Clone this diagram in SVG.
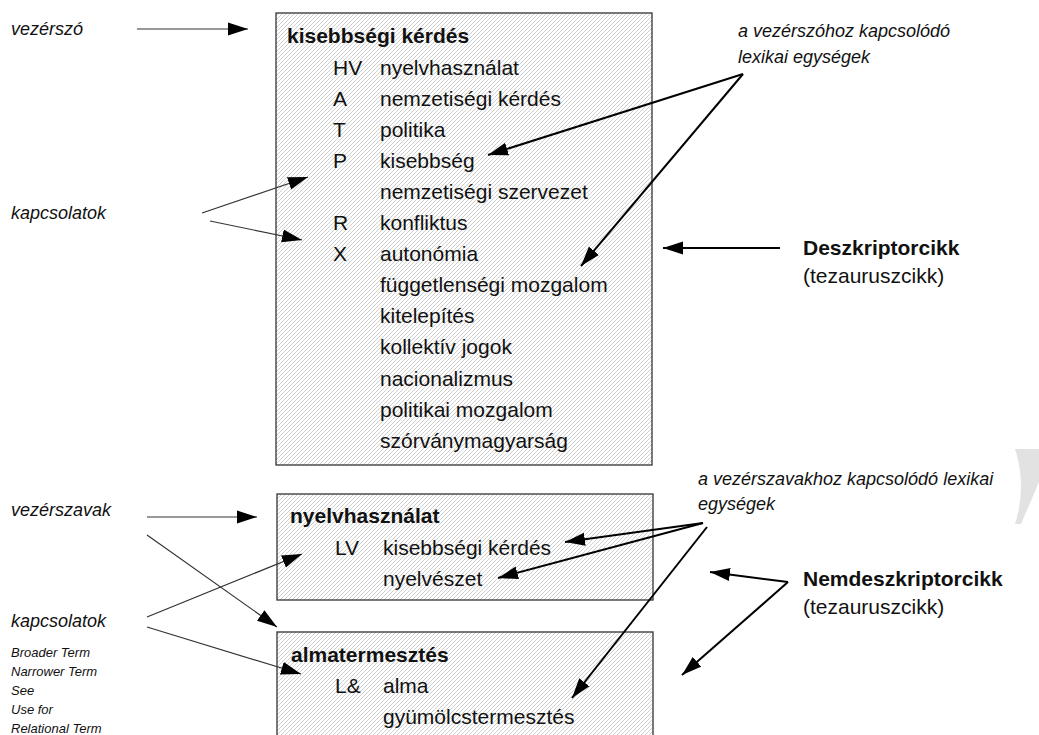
<svg xmlns="http://www.w3.org/2000/svg" width="1039" height="735" viewBox="0 0 1039 735">
  <style>
    .t { font-family: "Liberation Sans", Arial, sans-serif; fill: #111; }
    .head { font-size: 21px; font-weight: bold; }
    .entry { font-size: 21px; }
    .lab { font-size: 18px; font-style: italic; }
    .small { font-size: 13px; font-style: italic; }
    .box { fill: url(#hatch); stroke: #333; stroke-width: 1.3; }
    .thin { stroke: #333; stroke-width: 1.2; fill: none; }
    .thick { stroke: #000; stroke-width: 2; fill: none; }
  </style>
  <defs>
    <pattern id="hatch" patternUnits="userSpaceOnUse" width="4" height="4">
      <rect width="4" height="4" fill="#fff"/>
      <path d="M-1,1 L1,-1 M0,4 L4,0 M3,5 L5,3" stroke="#cacaca" stroke-width="0.9"/>
    </pattern>
    <marker id="arr" markerUnits="userSpaceOnUse" markerWidth="21" markerHeight="14" refX="20" refY="7" orient="auto">
      <path d="M0,0.5 L20,7 L0,13.5 Z" fill="#000"/>
    </marker>
  </defs>

  <rect width="1039" height="735" fill="#fff"/>

  <!-- faint page-edge ornament -->
  <path d="M1015,449 L1039,449 L1039,482 L1021,524 L1015,524 Q1027,487 1015,449 Z" fill="#e2e2e2"/>

  <!-- descriptor entry -->
  <g id="descriptor">
    <rect class="box" x="276" y="13" width="376" height="452"/>
    <text class="t head" x="287" y="43">kisebbségi kérdés</text>
    <g class="t entry">
      <text x="333" y="75">HV</text><text x="380" y="75">nyelvhasználat</text>
      <text x="333" y="106">A</text><text x="380" y="106">nemzetiségi kérdés</text>
      <text x="333" y="137">T</text><text x="380" y="137">politika</text>
      <text x="333" y="168">P</text><text x="380" y="168">kisebbség</text>
      <text x="380" y="199">nemzetiségi szervezet</text>
      <text x="333" y="230">R</text><text x="380" y="230">konfliktus</text>
      <text x="333" y="261">X</text><text x="380" y="261">autonómia</text>
      <text x="380" y="292">függetlenségi mozgalom</text>
      <text x="380" y="323">kitelepítés</text>
      <text x="380" y="354">kollektív jogok</text>
      <text x="380" y="386">nacionalizmus</text>
      <text x="380" y="417">politikai mozgalom</text>
      <text x="380" y="448">szórványmagyarság</text>
    </g>
  </g>

  <!-- non-descriptor entries -->
  <g id="nondescriptor-1">
    <rect class="box" x="277" y="494" width="376" height="106"/>
    <text class="t head" x="290" y="523">nyelvhasználat</text>
    <text class="t entry" x="335" y="555">LV</text>
    <text class="t entry" x="383" y="555">kisebbségi kérdés</text>
    <text class="t entry" x="383" y="586">nyelvészet</text>
  </g>
  <g id="nondescriptor-2">
    <rect class="box" x="277" y="632" width="376" height="120"/>
    <text class="t head" x="291" y="662">almatermesztés</text>
    <text class="t entry" x="335" y="693">L&amp;</text>
    <text class="t entry" x="383" y="693">alma</text>
    <text class="t entry" x="383" y="724">gyümölcstermesztés</text>
  </g>

  <!-- annotations -->
  <g id="labels-left">
    <text class="t lab" x="11" y="35">vezérszó</text>
    <text class="t lab" x="11" y="219">kapcsolatok</text>
    <text class="t lab" x="11" y="516">vezérszavak</text>
    <text class="t lab" x="11" y="627">kapcsolatok</text>
    <g class="t small">
      <text x="11" y="657">Broader Term</text>
      <text x="11" y="676">Narrower Term</text>
      <text x="11" y="695">See</text>
      <text x="11" y="714">Use for</text>
      <text x="11" y="733">Relational Term</text>
    </g>
  </g>
  <g id="labels-right">
    <text class="t lab" x="738" y="37">a vezérszóhoz kapcsolódó</text>
    <text class="t lab" x="738" y="63">lexikai egységek</text>
    <text class="t head" x="803" y="255">Deszkriptorcikk</text>
    <text class="t entry" x="803" y="283">(tezauruszcikk)</text>
    <text class="t lab" x="698" y="485">a vezérszavakhoz kapcsolódó lexikai</text>
    <text class="t lab" x="698" y="510">egységek</text>
    <text class="t head" x="803" y="586">Nemdeszkriptorcikk</text>
    <text class="t entry" x="803" y="614">(tezauruszcikk)</text>
  </g>

  <!-- connectors -->
  <g id="connectors" marker-end="url(#arr)">
    <line class="thin" x1="137" y1="29" x2="248" y2="29"/>
    <line class="thin" x1="202" y1="213" x2="308" y2="177"/>
    <line class="thin" x1="210" y1="221" x2="302" y2="240"/>
    <line class="thick" x1="743" y1="74" x2="488" y2="155"/>
    <line class="thick" x1="743" y1="74" x2="581" y2="266"/>
    <line class="thick" x1="780" y1="248" x2="663" y2="248"/>
    <line class="thin" x1="147" y1="517" x2="257" y2="517"/>
    <line class="thin" x1="147" y1="535" x2="277" y2="627"/>
    <line class="thin" x1="147" y1="617" x2="302" y2="554"/>
    <line class="thin" x1="147" y1="627" x2="301" y2="674"/>
    <line class="thick" x1="703" y1="523" x2="565" y2="542"/>
    <line class="thick" x1="703" y1="523" x2="498" y2="578"/>
    <line class="thick" x1="707" y1="527" x2="572" y2="698"/>
    <line class="thick" x1="788" y1="582" x2="710" y2="572"/>
    <line class="thick" x1="788" y1="582" x2="682" y2="675"/>
  </g>
</svg>
